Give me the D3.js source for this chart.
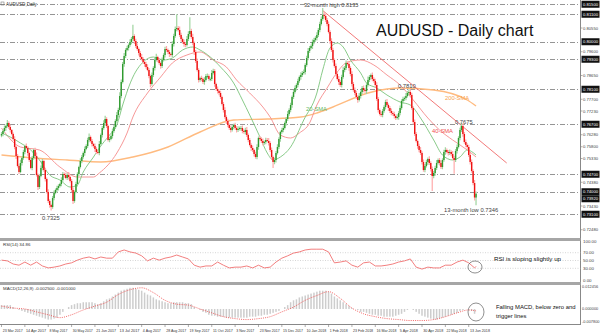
<!DOCTYPE html>
<html><head><meta charset="utf-8">
<script src="https://cdn.jsdelivr.net/npm/d3@7"></script>
<style>body{margin:0;background:#fff}svg{display:block;font-family:"Liberation Sans",Arial,sans-serif}</style>
</head><body><svg id="c" width="600" height="335"></svg>
<script>
// ---------- DATA ----------
const firstOpen = 0.7625;
const closes = [
0.7631,0.7643,0.7655,0.7663,0.7675,0.7659,0.7647,0.7631,0.7611,0.7579,
0.7543,0.7503,0.7479,0.7515,0.7535,0.7559,0.7583,0.7575,0.7555,0.7527,
0.7495,0.7535,0.7567,0.7543,0.7467,0.7419,0.7463,0.7495,0.7523,0.7487,
0.7451,0.7399,0.7363,0.7347,0.7339,0.7375,0.7395,0.7407,0.7415,0.7423,
0.7431,0.7447,0.7471,0.7467,0.7455,0.7467,0.7459,0.7443,0.7407,0.7363,
0.7399,0.7431,0.7471,0.7499,0.7523,0.7539,0.7555,0.7571,0.7583,0.7607,
0.7619,0.7603,0.7591,0.7583,0.7571,0.7559,0.7555,0.7591,0.7627,0.7655,
0.7675,0.7691,0.7663,0.7607,0.7611,0.7623,0.7643,0.7659,0.7683,0.7707,
0.7727,0.7783,0.7839,0.7911,0.7943,0.7967,0.7975,0.7987,0.7999,0.8011,
0.8023,0.8003,0.7983,0.7971,0.7955,0.7939,0.7931,0.7919,0.7911,0.7899,
0.7887,0.7863,0.7831,0.7867,0.7895,0.7927,0.7939,0.7927,0.7915,0.7903,
0.7927,0.7947,0.7971,0.7967,0.7959,0.7951,0.7947,0.7991,0.8023,0.8051,
0.8055,0.8047,0.8027,0.8011,0.7999,0.7991,0.7987,0.8011,0.8031,0.8043,
0.8019,0.7995,0.7959,0.7923,0.7887,0.7847,0.7855,0.7851,0.7839,0.7847,
0.7863,0.7863,0.7851,0.7851,0.7875,0.7883,0.7831,0.7811,0.7803,0.7795,
0.7779,0.7751,0.7727,0.7699,0.7683,0.7667,0.7655,0.7647,0.7659,0.7667,
0.7655,0.7647,0.7651,0.7655,0.7655,0.7643,0.7639,0.7647,0.7627,0.7607,
0.7587,0.7575,0.7567,0.7551,0.7539,0.7579,0.7615,0.7611,0.7603,0.7595,
0.7599,0.7607,0.7603,0.7595,0.7567,0.7539,0.7519,0.7527,0.7555,0.7579,
0.7611,0.7639,0.7647,0.7655,0.7675,0.7691,0.7711,0.7727,0.7747,0.7779,
0.7799,0.7815,0.7827,0.7843,0.7859,0.7867,0.7875,0.7879,0.7907,0.7935,
0.7963,0.7975,0.7983,0.7999,0.8007,0.8015,0.8027,0.8047,0.8071,0.8091,
0.8107,0.8103,0.8087,0.8071,0.8039,0.8003,0.7967,0.7927,0.7903,0.7871,
0.7851,0.7839,0.7827,0.7859,0.7887,0.7895,0.7915,0.7911,0.7895,0.7871,
0.7831,0.7807,0.7795,0.7779,0.7767,0.7783,0.7799,0.7815,0.7807,0.7803,
0.7827,0.7847,0.7859,0.7867,0.7851,0.7843,0.7827,0.7771,0.7727,0.7711,
0.7707,0.7723,0.7739,0.7759,0.7747,0.7735,0.7723,0.7715,0.7711,0.7703,
0.7695,0.7699,0.7715,0.7735,0.7763,0.7771,0.7775,0.7783,0.7795,0.7799,
0.7787,0.7735,0.7679,0.7631,0.7603,0.7583,0.7567,0.7555,0.7519,0.7487,
0.7503,0.7519,0.7531,0.7515,0.7491,0.7463,0.7475,0.7495,0.7515,0.7527,
0.7515,0.7499,0.7527,0.7559,0.7567,0.7559,0.7555,0.7559,0.7551,0.7535,
0.7527,0.7563,0.7579,0.7615,0.7647,0.7663,0.7631,0.7599,0.7587,0.7579,
0.7547,0.7519,0.7483,0.7435,0.7377,0.7392
];
// wick extensions in pips beyond the body
const upWick = [
8,6,10,5,12,7,9,4,6,11,5,8,7,13,6,9,5,10,7,6,
12,8,5,9,14,6,7,10,8,5,9,6,11,7,5,8,10,6,9,7,
5,11,8,6,9,7,12,5,8,10,6,9,7,5,11,8,6,10,7,9,
14,6,8,5,10,7,9,12,6,8,11,13,7,5,9,6,10,8,7,12,
9,15,10,8,12,7,9,6,11,8,45,7,9,10,6,8,12,7,5,9,
11,8,6,10,7,9,13,5,8,6,10,7,9,12,6,8,5,11,9,10,
55,8,14,9,6,10,8,12,11,55,9,13,6,8,10,7,5,9,6,11,
8,10,7,6,12,9,8,5,10,7,9,6,8,11,7,9,6,10,8,5,
9,7,11,6,8,10,7,9,12,6,8,7,10,5,9,11,6,8,7,10,
6,9,8,12,7,10,6,9,8,11,7,5,9,10,6,8,12,7,9,6,
8,10,7,9,6,11,8,10,7,9,12,8,6,10,9,7,11,8,9,10,
28,12,9,8,10,7,11,9,6,10,8,12,7,9,13,8,10,6,9,7,
11,8,10,9,7,12,6,8,10,7,9,14,8,6,10,7,9,11,8,6,
10,8,7,9,12,6,8,10,7,9,6,11,8,10,7,9,6,12,8,11,
11,9,7,10,8,6,9,12,7,10,8,9,6,11,7,10,8,9,12,6,
8,10,7,9,11,6,8,10,7,12,9,8,10,7,9,12,11,8,10,7,
9,8,10,7,12,9
];
const downWick = [
7,9,5,11,6,8,10,5,7,9,12,6,8,5,10,7,9,6,11,8,
5,9,7,10,6,12,8,5,9,7,10,6,8,11,14,7,9,5,8,10,
6,9,7,11,5,8,10,6,9,12,7,5,10,8,6,9,7,11,5,8,
9,6,10,7,12,8,5,9,6,10,7,11,8,6,9,5,10,7,8,6,
10,7,9,6,11,8,5,10,7,9,6,12,8,7,10,9,6,8,11,7,
5,9,13,7,8,10,6,9,7,11,8,6,10,7,9,12,6,8,10,7,
9,6,8,10,7,11,9,6,8,10,7,9,12,8,6,10,7,9,8,11,
6,10,7,9,8,6,11,7,10,9,8,6,10,7,12,9,8,10,6,9,
7,10,8,6,11,9,7,10,8,9,6,12,8,10,7,9,11,6,8,10,
7,9,6,10,8,12,24,9,10,6,8,11,7,9,6,10,8,7,9,11,
8,6,10,9,7,11,8,6,10,7,9,8,6,12,9,7,10,8,9,6,
7,10,8,9,6,11,8,10,7,9,6,12,8,10,7,9,8,6,11,9,
10,7,9,8,11,6,10,8,9,7,12,6,8,10,9,7,11,8,10,6,
8,9,7,10,6,12,8,9,7,10,8,6,11,9,7,10,8,9,6,10,
9,7,10,8,6,11,9,8,10,7,9,6,12,8,10,60,9,11,8,6,
10,8,9,7,11,6,10,8,9,7,55,8,10,6,9,8,11,7,9,10,
8,10,7,9,12,31
];
// moving averages: [bar index, value]
const sma20 = [[0,0.7635],[6,0.7619],[13,0.7595],[20,0.7567],[26,0.7527],[33,0.7467],[40,0.7447],[47,0.7419],[52,0.7427],[56,0.7479],[63,0.7539],[67,0.7575],[74,0.7627],[79,0.7667],[83,0.7747],[90,0.7859],[97,0.7919],[104,0.7939],[111,0.7927],[117,0.7935],[124,0.7967],[131,0.7979],[136,0.7967],[143,0.7939],[150,0.7899],[159,0.7835],[165,0.7767],[170,0.7707],[177,0.7619],[182,0.7555],[186,0.7527],[191,0.7539],[198,0.7579],[207,0.7687],[216,0.7795],[220,0.7887],[225,0.7975],[230,0.7995],[234,0.7979],[239,0.7927],[246,0.7875],[250,0.7835],[257,0.7815],[264,0.7787],[273,0.7759],[280,0.7747],[287,0.7695],[296,0.7607],[302,0.7547],[309,0.7527],[314,0.7539],[319,0.7567],[325,0.7547]];
const sma40 = [[0,0.7655],[13,0.7579],[26,0.7567],[40,0.7499],[52,0.7459],[63,0.7459],[67,0.7475],[79,0.7555],[86,0.7635],[90,0.7699],[100,0.7795],[109,0.7859],[117,0.7915],[127,0.7947],[136,0.7959],[145,0.7927],[154,0.7899],[161,0.7847],[170,0.7795],[179,0.7739],[184,0.7699],[191,0.7627],[198,0.7615],[204,0.7635],[211,0.7675],[216,0.7747],[223,0.7815],[230,0.7879],[237,0.7919],[246,0.7927],[255,0.7907],[264,0.7867],[273,0.7827],[282,0.7767],[292,0.7695],[300,0.7647],[309,0.7607],[319,0.7567],[325,0.7539]];
const sma200 = [[0,0.7547],[22,0.7535],[45,0.7527],[68,0.7519],[90,0.7539],[114,0.7579],[136,0.7639],[159,0.7687],[182,0.7691],[205,0.7699],[216,0.7715],[227,0.7739],[251,0.7795],[264,0.7811],[273,0.7815],[296,0.7807],[319,0.7767],[325,0.7743]];
const trendLine = [[220,0.8125],[346,0.7515]];
const levels = [0.8150,0.8110,0.8000,0.7930,0.7810,0.7670,0.7470,0.7400,0.7310];
const lastPrice = 0.7392;
const priceTicks = [0.8055,0.8008,0.7960,0.7913,0.7865,0.7818,0.7770,0.7723,0.7675,0.7628,0.7580,0.7533,0.7485,0.7438,0.7390,0.7343,0.7295,0.7248];
const dateLabels = ["23 Mar 2017","14 Apr 2017","8 May 2017","30 May 2017","21 Jun 2017","13 Jul 2017","4 Aug 2017","28 Aug 2017","19 Sep 2017","11 Oct 2017","3 Nov 2017","23 Nov 2017","15 Dec 2017","10 Jan 2018","1 Feb 2018","23 Feb 2018","16 Mar 2018","5 Apr 2018","30 Apr 2018","22 May 2018","13 Jun 2018"];
// RSI(14), one value every 4 bars (last = final bar)
const rsi = [51,49,41,38,46,38,46,36,31,33,36,41,44,51,56,59,54,59,56,56,72,77,72,69,62,49,56,51,56,59,64,59,54,38,33,36,36,46,38,31,33,33,36,31,38,31,33,46,56,62,69,72,77,79,79,79,72,44,46,49,38,33,44,46,36,36,38,41,46,49,54,33,28,33,31,31,38,38,46,51,44,31,35];
const rsiLevels = [70,50,30];
const rsiLabels = [100,70,50,30,0];
// MACD main (histogram), one value every 2 bars
const macd = [0.0020,0.0020,0.0020,0.0020,0.0010,0,-0.0005,-0.0010,-0.0015,-0.0020,
-0.0025,-0.0030,-0.0035,-0.0040,-0.0045,-0.0050,-0.0055,-0.0055,-0.0050,-0.0045,
-0.0030,-0.0015,0,0.0010,0.0020,0.0025,0.0030,0.0030,0.0035,0.0035,
0.0035,0.0035,0.0030,0.0025,0.0030,0.0040,0.0050,0.0055,0.0065,0.0075,
0.0085,0.0095,0.0100,0.0105,0.0110,0.0110,0.0105,0.0100,0.0095,0.0085,
0.0075,0.0070,0.0060,0.0050,0.0045,0.0040,0.0035,0.0030,0.0030,0.0035,
0.0035,0.0035,0.0035,0.0030,0.0030,0.0025,0.0010,0,-0.0005,-0.0015,
-0.0020,-0.0030,-0.0035,-0.0035,-0.0040,-0.0040,-0.0040,-0.0045,-0.0045,-0.0045,
-0.0045,-0.0045,-0.0045,-0.0045,-0.0045,-0.0040,-0.0040,-0.0040,-0.0035,-0.0035,
-0.0030,-0.0030,-0.0025,-0.0020,-0.0015,-0.0010,0,0.0010,0.0020,0.0035,
0.0045,0.0050,0.0060,0.0065,0.0070,0.0075,0.0080,0.0085,0.0090,0.0095,
0.0095,0.0095,0.0090,0.0080,0.0065,0.0055,0.0045,0.0035,0.0025,0.0015,
0.0005,0,-0.0005,-0.0015,-0.0015,-0.0020,-0.0025,-0.0030,-0.0030,-0.0035,
-0.0035,-0.0040,-0.0040,-0.0040,-0.0040,-0.0035,-0.0030,-0.0025,-0.0015,-0.0005,
0,-0.0005,-0.0015,-0.0025,-0.0035,-0.0040,-0.0045,-0.0050,-0.0055,-0.0055,
-0.0050,-0.0045,-0.0040,-0.0035,-0.0030,-0.0025,-0.0020,-0.0010,-0.0005,0,
0,-0.0010,-0.0025];
// MACD signal, one value every 8 bars (last = final bar)
const signal = [0.0015,0.0005,0,-0.0015,-0.0030,-0.0045,-0.0030,-0.0005,0.0015,0.0035,0.0075,0.0100,0.0110,0.0085,0.0045,0.0025,0.0020,0,-0.0020,-0.0040,-0.0050,-0.0055,-0.0050,-0.0040,-0.0015,0.0010,0.0045,0.0070,0.0090,0.0055,0.0005,-0.0025,-0.0040,-0.0050,-0.0055,-0.0060,-0.0060,-0.0055,-0.0040,-0.0020,-0.0005,-0.0010];
const macdLabels = [0.012456,0,-0.0078];

// ---------- CHART ----------
const svg = d3.select('#c');
svg.append('rect').attr('width',600).attr('height',335).attr('fill','#fff');
const N = closes.length;
const x = d3.scaleLinear().domain([0,396]).range([1.5,579.7]);
const y = d3.scaleLinear().domain([0.7325,0.8135]).range([210.5,8]);
const yR = d3.scaleLinear().domain([0,100]).range([280,241]);
const yM = d3.scaleLinear().domain([-0.0078,0.012456]).range([324,285]);
const AX = 580.5;
const AFS = 4.4;

const candles = closes.map((c,i)=>{
  const o = i? closes[i-1] : firstOpen;
  return {i,o,c,h:Math.max(o,c)+upWick[i]/1e4,l:Math.min(o,c)-downWick[i]/1e4};
});

// horizontal levels
svg.append('g').selectAll('line').data(levels).join('line')
  .attr('x1',0).attr('x2',AX).attr('y1',d=>Math.round(y(d))+0.5).attr('y2',d=>Math.round(y(d))+0.5)
  .attr('stroke','#7a7a7a').attr('stroke-width',0.8).attr('stroke-dasharray','5,2,1,2');

// moving averages + trend line
const ln = d3.line().x(d=>x(d[0])).y(d=>y(d[1])).curve(d3.curveMonotoneX);
svg.append('path').attr('d',ln(sma200)).attr('fill','none').attr('stroke','#ffbb80').attr('stroke-width',1.4);
svg.append('path').attr('d',ln(sma40)).attr('fill','none').attr('stroke','#f58c8c').attr('stroke-width',0.9);
svg.append('path').attr('d',ln(sma20)).attr('fill','none').attr('stroke','#7cc47c').attr('stroke-width',0.9);
svg.append('path').attr('d',d3.line().x(d=>x(d[0])).y(d=>y(d[1]))(trendLine)).attr('fill','none').attr('stroke','#f06a6a').attr('stroke-width',0.9);

// candles
const gC = svg.append('g');
gC.selectAll('line').data(candles).join('line')
  .attr('x1',d=>x(d.i)).attr('x2',d=>x(d.i)).attr('y1',d=>y(d.h)).attr('y2',d=>y(d.l))
  .attr('stroke',d=>d.c>=d.o?'#9fd49f':'#ffaaaa').attr('stroke-width',1.2);
gC.selectAll('rect').data(candles).join('rect')
  .attr('x',d=>x(d.i)-0.7).attr('width',1.4)
  .attr('y',d=>y(Math.max(d.o,d.c)))
  .attr('height',d=>Math.max(0.8,Math.abs(y(d.o)-y(d.c))))
  .attr('fill',d=>d.c>=d.o?'#2f9a2f':'#ee1111');

// right price axis
const hiVals = levels.concat([lastPrice]);
const ticks = priceTicks.filter(t=>hiVals.every(h=>Math.abs(y(h)-y(t))>6));
const gA = svg.append('g').attr('font-size',AFS).attr('fill','#444');
gA.selectAll('line').data(ticks).join('line').attr('x1',AX).attr('x2',AX+2).attr('y1',d=>y(d)).attr('y2',d=>y(d)).attr('stroke','#777').attr('stroke-width',0.6);
gA.selectAll('text').data(ticks).join('text').attr('x',AX+2.5).attr('y',d=>y(d)).attr('dy','0.35em')
  .attr('textLength',15).attr('lengthAdjust','spacingAndGlyphs').text(d=>d.toFixed(5));
const gH = svg.append('g').attr('font-size',AFS);
let prevY = -99;
hiVals.slice().sort((a,b)=>b-a).forEach(v=>{
  let yy = y(v);
  if (yy - prevY < 7) yy = prevY + 7;
  prevY = yy;
  gH.append('rect').attr('x',AX+1).attr('y',yy-3.5).attr('width',18).attr('height',7).attr('fill','#111');
  gH.append('text').attr('x',AX+2.5).attr('y',yy).attr('dy','0.35em').attr('fill','#fff')
    .attr('textLength',15).attr('lengthAdjust','spacingAndGlyphs').text(v.toFixed(5));
});

// panel borders
svg.append('line').attr('x1',AX).attr('x2',AX).attr('y1',0).attr('y2',325).attr('stroke','#888').attr('stroke-width',1);
[239.5,283.5].forEach(v=>svg.append('rect').attr('x',0).attr('y',v-1.5).attr('width',AX).attr('height',3).attr('fill','#a6a6a6'));
svg.append('line').attr('x1',0).attr('x2',AX).attr('y1',324.5).attr('y2',324.5).attr('stroke','#888').attr('stroke-width',1);

// RSI panel
svg.append('g').selectAll('line').data(rsiLevels).join('line')
  .attr('x1',0).attr('x2',AX).attr('y1',d=>yR(d)).attr('y2',d=>yR(d))
  .attr('stroke','#bbb').attr('stroke-width',0.6).attr('stroke-dasharray','1,1.5');
const rsiPts = rsi.map((v,k)=>[Math.min(4*k,N-1),v]);
svg.append('path').attr('d',d3.line().x(d=>x(d[0])).y(d=>yR(d[1]))(rsiPts)).attr('fill','none').attr('stroke','#f07070').attr('stroke-width',0.9);
svg.append('g').attr('font-size',AFS).attr('fill','#444').selectAll('text').data(rsiLabels).join('text')
  .attr('x',AX+2.5).attr('y',d=>yR(d)).attr('dy','0.35em').text(d=>d.toFixed(2));

// MACD panel
svg.append('g').selectAll('rect').data(macd).join('rect')
  .attr('x',(d,j)=>x(2*j)-0.75).attr('width',1.5)
  .attr('y',d=>Math.min(yM(0),yM(d))).attr('height',d=>Math.abs(yM(d)-yM(0)))
  .attr('fill','#cdcdcd');
const sigPts = signal.map((v,k)=>[Math.min(8*k,N-1),v]);
svg.append('path').attr('d',d3.line().x(d=>x(d[0])).y(d=>yM(d[1])).curve(d3.curveMonotoneX)(sigPts))
  .attr('fill','none').attr('stroke','#f04040').attr('stroke-width',0.8).attr('stroke-dasharray','1,1.2');
svg.append('g').attr('font-size',3.9).attr('fill','#444').selectAll('text').data(macdLabels).join('text')
  .attr('x',AX+1.5).attr('y',(d,k)=>yM(d)+(k===0?1.5:k===2?-2.5:0)).attr('dy','0.35em')
  .text(d=>d.toFixed(6));

// date axis
const gD = svg.append('g').attr('font-size',4.2).attr('fill','#333');
dateLabels.forEach((s,k)=>{
  const xx = x(16*k);
  gD.append('line').attr('x1',xx).attr('x2',xx).attr('y1',324.5).attr('y2',327).attr('stroke','#777').attr('stroke-width',0.6);
  gD.append('text').attr('x',xx+1.2).attr('y',331.5).attr('textLength',s.length>10?20:18).attr('lengthAdjust','spacingAndGlyphs').text(s);
});

// labels
const T = (t,xx,yy,fs,col)=>svg.append('text').attr('x',xx).attr('y',yy).attr('font-size',fs).attr('fill',col).text(t);
svg.append('rect').attr('x',1).attr('y',2).attr('width',3).attr('height',3).attr('fill','none').attr('stroke','#666').attr('stroke-width',0.5);
T('AUDUSD,Daily',6,6,4.6,'#333');
T('RSI(14) 34.86',3,245.5,4.4,'#333');
T('MACD(12,26,9) -0.002500 -0.001000',3,289.5,4.4,'#333');
T('AUDUSD - Daily chart',376,36,16,'#111');
T('32-month high 0.8135',304,6.5,5.6,'#444');
T('0.7810',398,87.5,5.8,'#444');
T('200-SMA',445,100,5.8,'#f7a34f');
T('20-SMA',306,111,5.8,'#5fb85f');
T('40-SMA',432,133,5.8,'#f05050');
T('0.7675',455,124,5.8,'#444');
T('0.7325',42,220,5.8,'#444');
T('13-month low 0.7346',444,212,5.8,'#444');
T('RSI is sloping slightly up',494,261,6.2,'#111');
T('Falling MACD, below zero and',496,309,5.9,'#111');
T('trigger lines',496,318,5.9,'#111');
svg.append('ellipse').attr('cx',475).attr('cy',267).attr('rx',7).attr('ry',6).attr('fill','none').attr('stroke','#444').attr('stroke-width',0.6);
svg.append('ellipse').attr('cx',476).attr('cy',312).attr('rx',8).attr('ry',9).attr('fill','none').attr('stroke','#444').attr('stroke-width',0.6);
</script></body></html>
